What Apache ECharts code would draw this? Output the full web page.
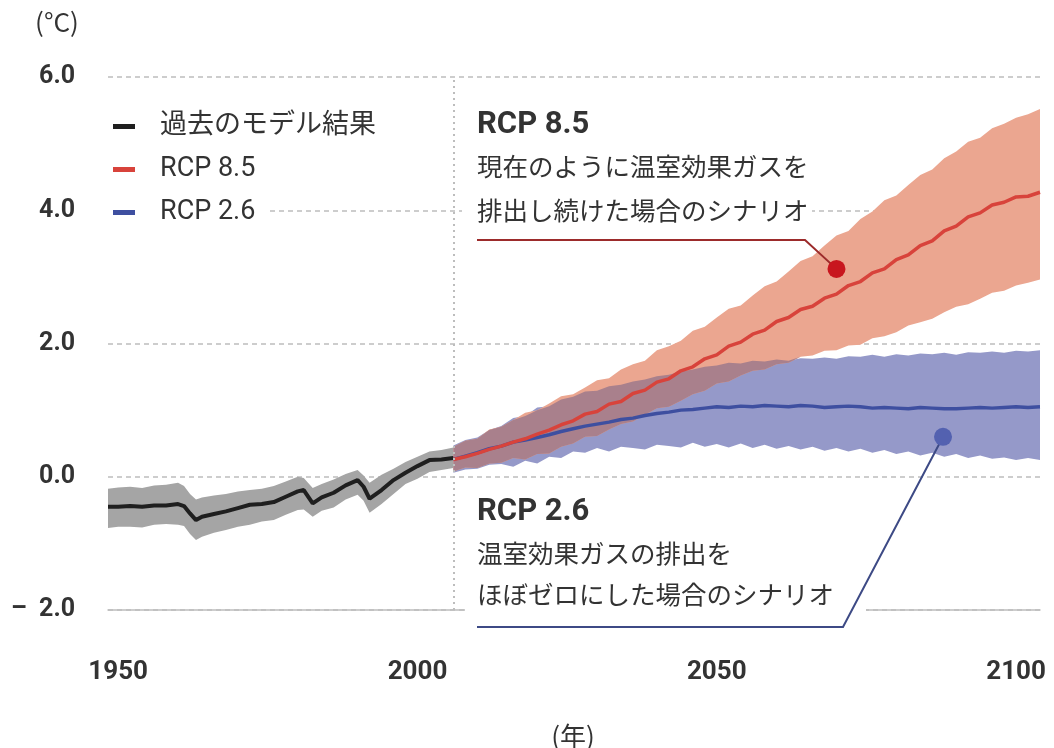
<!DOCTYPE html>
<html>
<head>
<meta charset="utf-8">
<script src="https://cdn.jsdelivr.net/npm/echarts@6/dist/echarts.min.js"></script>
<style>
  html, body { margin: 0; padding: 0; background: #fff; }
  #chart { width: 1054px; height: 748px; }
</style>
</head>
<body>
<div id="chart"></div>
<script>
// ---- axis setup ----
const xMin = 1948.3;
const xMax = 2104;
const yTicks = [-2, 0, 2, 4, 6];
const xTickLabels = [1950, 2000, 2050, 2100];

// ---- historical model run (mean and spread) ----
const histYears = [1948.3, 1950, 1952, 1954, 1956, 1958, 1960, 1961, 1962, 1963,
  1964, 1966, 1968, 1970, 1972, 1974, 1976, 1978, 1980, 1981,
  1982.5, 1984, 1986, 1988, 1990, 1991, 1992, 1994, 1996, 1998,
  2000, 2002, 2004, 2006];
const histMean = [-0.45, -0.45, -0.44, -0.45, -0.43, -0.43, -0.41, -0.44, -0.55, -0.65,
  -0.60, -0.56, -0.52, -0.47, -0.42, -0.41, -0.38, -0.30, -0.22, -0.20,
  -0.40, -0.31, -0.24, -0.13, -0.05, -0.15, -0.33, -0.20, -0.05, 0.06,
  0.16, 0.25, 0.26, 0.28];
const histHigh = [-0.18, -0.16, -0.15, -0.17, -0.13, -0.12, -0.09, -0.14, -0.26, -0.34,
  -0.31, -0.28, -0.26, -0.22, -0.20, -0.18, -0.14, -0.07, 0.00, -0.02,
  -0.17, -0.11, -0.04, 0.04, 0.10, 0.02, -0.09, 0.03, 0.12, 0.22,
  0.30, 0.38, 0.40, 0.44];
const histLow = [-0.77, -0.75, -0.75, -0.76, -0.72, -0.71, -0.72, -0.74, -0.86, -0.95,
  -0.90, -0.84, -0.80, -0.75, -0.72, -0.67, -0.65, -0.57, -0.50, -0.49,
  -0.60, -0.51, -0.46, -0.34, -0.27, -0.36, -0.54, -0.41, -0.26, -0.11,
  -0.03, 0.07, 0.10, 0.13];

// ---- scenario projections ----
const projYears = [2006, 2008, 2010, 2012, 2014, 2016, 2018, 2020, 2022, 2024,
  2026, 2028, 2030, 2032, 2034, 2036, 2038, 2040, 2042, 2044,
  2046, 2048, 2050, 2052, 2054, 2056, 2058, 2060, 2062, 2064,
  2066, 2068, 2070, 2072, 2074, 2076, 2078, 2080, 2082, 2084,
  2086, 2088, 2090, 2092, 2094, 2096, 2098, 2100, 2102, 2104];

const rcp85Mean = [0.26, 0.30, 0.35, 0.41, 0.46, 0.52, 0.57, 0.64, 0.70, 0.78,
  0.84, 0.94, 0.98, 1.09, 1.13, 1.25, 1.30, 1.42, 1.47, 1.59,
  1.65, 1.77, 1.83, 1.96, 2.02, 2.14, 2.20, 2.33, 2.39, 2.51,
  2.56, 2.68, 2.74, 2.87, 2.93, 3.06, 3.12, 3.26, 3.33, 3.47,
  3.54, 3.69, 3.76, 3.90, 3.96, 4.08, 4.12, 4.20, 4.21, 4.27];
const rcp85High = [0.45, 0.54, 0.57, 0.71, 0.75, 0.85, 0.96, 1.00, 1.10, 1.21,
  1.24, 1.34, 1.45, 1.48, 1.61, 1.69, 1.74, 1.90, 1.96, 2.04,
  2.19, 2.25, 2.39, 2.52, 2.57, 2.72, 2.86, 2.93, 3.08, 3.24,
  3.31, 3.47, 3.62, 3.69, 3.87, 3.98, 4.15, 4.22, 4.38, 4.53,
  4.61, 4.78, 4.88, 5.03, 5.09, 5.23, 5.30, 5.39, 5.44, 5.52];
const rcp85Low = [0.08, 0.14, 0.13, 0.20, 0.21, 0.28, 0.26, 0.34, 0.35, 0.45,
  0.50, 0.60, 0.61, 0.71, 0.79, 0.83, 0.93, 1.03, 1.05, 1.14,
  1.24, 1.29, 1.40, 1.43, 1.52, 1.59, 1.61, 1.69, 1.71, 1.80,
  1.82, 1.89, 1.90, 1.97, 1.98, 2.08, 2.11, 2.17, 2.27, 2.32,
  2.37, 2.47, 2.55, 2.59, 2.67, 2.76, 2.79, 2.87, 2.91, 2.96];

const rcp26Mean = [0.26, 0.31, 0.36, 0.42, 0.46, 0.52, 0.55, 0.59, 0.63, 0.68,
  0.72, 0.76, 0.79, 0.82, 0.86, 0.88, 0.92, 0.95, 0.97, 1.00,
  1.01, 1.03, 1.05, 1.04, 1.06, 1.05, 1.07, 1.06, 1.05, 1.07,
  1.06, 1.04, 1.05, 1.06, 1.05, 1.03, 1.04, 1.03, 1.02, 1.04,
  1.03, 1.02, 1.02, 1.03, 1.04, 1.03, 1.04, 1.05, 1.04, 1.05];
const rcp26High = [0.47, 0.55, 0.59, 0.70, 0.76, 0.88, 0.91, 1.04, 1.06, 1.16,
  1.20, 1.28, 1.29, 1.36, 1.38, 1.43, 1.46, 1.51, 1.53, 1.58,
  1.61, 1.65, 1.67, 1.71, 1.70, 1.74, 1.73, 1.76, 1.74, 1.78,
  1.77, 1.79, 1.77, 1.81, 1.80, 1.83, 1.80, 1.84, 1.82, 1.85,
  1.84, 1.86, 1.83, 1.87, 1.86, 1.88, 1.86, 1.89, 1.88, 1.90];
const rcp26Low = [0.06, 0.11, 0.12, 0.18, 0.19, 0.15, 0.24, 0.20, 0.30, 0.28,
  0.38, 0.36, 0.43, 0.38, 0.45, 0.43, 0.41, 0.48, 0.46, 0.44,
  0.51, 0.45, 0.49, 0.44, 0.50, 0.43, 0.48, 0.42, 0.46, 0.41,
  0.45, 0.39, 0.43, 0.38, 0.42, 0.36, 0.40, 0.34, 0.38, 0.32,
  0.36, 0.30, 0.34, 0.28, 0.32, 0.27, 0.29, 0.25, 0.28, 0.25];

// ---- callout markers ----
const calloutYears = [2070, 2087.8];
const calloutValues = [3.12, 0.60];

// ---- labels ----
const seriesNames = ['過去のモデル結果', 'RCP 8.5', 'RCP 2.6'];
const note85 = ['RCP 8.5', '現在のように温室効果ガスを', '排出し続けた場合のシナリオ'];
const note26 = ['RCP 2.6', '温室効果ガスの排出を', 'ほぼゼロにした場合のシナリオ'];

// ---- colours ----
const C = {
  histBand: '#a5a5a5', histLine: '#1f1f1f',
  band85: '#eba690', line85: '#d8433b', dot85: '#c8161e', lead85: '#9c2b2b',
  band26: '#9599c9', line26: '#3e4fa0', dot26: '#5361b0', lead26: '#3d4a85',
  overlap: '#a9808c', grid: '#bdbdbd', text: '#333333'
};

const LATIN = "Roboto, 'Noto Sans CJK JP', sans-serif";
const CJK = "'Noto Sans CJK JP', sans-serif";

function pairs(xs, ys) { return xs.map((x, i) => [x, ys[i]]); }

// shaded spread: polygon along the upper edge and back along the lower edge
function band(name, xs, lo, hi, color) {
  return {
    type: 'custom', name: name, silent: true,
    data: [[xs[0], lo[0]]],
    renderItem: function (params, api) {
      const pts = [];
      for (let i = 0; i < xs.length; i++) pts.push(api.coord([xs[i], hi[i]]));
      for (let i = xs.length - 1; i >= 0; i--) pts.push(api.coord([xs[i], lo[i]]));
      return { type: 'polygon', shape: { points: pts }, style: { fill: color } };
    }
  };
}

// intersection of the two scenario spreads
const overlapLow = projYears.map((_, i) => Math.max(rcp85Low[i], rcp26Low[i]));
const overlapHigh = projYears.map((_, i) => Math.max(overlapLow[i], Math.min(rcp85High[i], rcp26High[i])));

function meanLine(name, xs, ys, color, width) {
  return {
    type: 'line', name: name, symbol: 'none', data: pairs(xs, ys),
    lineStyle: { color: color, width: width }, itemStyle: { color: color }
  };
}

const histLine = meanLine(seriesNames[0], histYears, histMean, C.histLine, 4);
histLine.markLine = {
  silent: true, symbol: 'none', label: { show: false },
  lineStyle: { type: [2, 4], color: C.grid, width: 2 },
  data: [{ xAxis: 2006 }]
};

const series = [
  band('hist-spread', histYears, histLow, histHigh, C.histBand),
  band('rcp26-spread', projYears, rcp26Low, rcp26High, C.band26),
  band('rcp85-spread', projYears, rcp85Low, rcp85High, C.band85),
  band('overlap-spread', projYears, overlapLow, overlapHigh, C.overlap),
  histLine,
  meanLine(seriesNames[2], projYears, rcp26Mean, C.line26, 3.5),
  meanLine(seriesNames[1], projYears, rcp85Mean, C.line85, 3.5),
  {
    type: 'scatter', name: 'callouts', symbolSize: 18, z: 6, silent: true,
    data: [
      { value: [calloutYears[0], calloutValues[0]], itemStyle: { color: C.dot85, opacity: 1 } },
      { value: [calloutYears[1], calloutValues[1]], itemStyle: { color: C.dot26, opacity: 1 } }
    ]
  }
];

const chart = echarts.init(document.getElementById('chart'), null, { renderer: 'canvas' });

chart.setOption({
  animation: false,
  backgroundColor: '#ffffff',
  grid: { left: 108, right: 14, top: 77, bottom: 138 },
  xAxis: {
    type: 'value', min: xMin, max: xMax,
    axisLine: { onZero: false, lineStyle: { color: C.grid, width: 1.5 } },
    axisTick: { show: false },
    splitLine: { show: false },
    axisLabel: {
      customValues: xTickLabels, margin: 49,
      color: C.text, fontSize: 26, fontWeight: 'bold', fontFamily: LATIN,
      formatter: v => String(Math.round(v))
    }
  },
  yAxis: {
    type: 'value', min: yTicks[0], max: yTicks[yTicks.length - 1], interval: 2,
    axisLine: { show: false }, axisTick: { show: false },
    splitLine: { lineStyle: { type: [5, 4], color: C.grid, width: 1.5 } },
    axisLabel: {
      margin: 33, color: C.text, fontSize: 25, fontWeight: 'bold', fontFamily: LATIN,
      formatter: v => (v < 0 ? '–  ' + Math.abs(v).toFixed(1) : v.toFixed(1))
    }
  },
  legend: {
    data: [seriesNames[0], seriesNames[1], seriesNames[2]],
    orient: 'vertical', left: 108, top: 108,
    icon: 'rect', itemWidth: 22, itemHeight: 5, itemGap: 16,
    padding: [5, 0, 5, 5],
    selectedMode: false,
    textStyle: {
      color: C.text, fontSize: 27, lineHeight: 26, fontFamily: LATIN,
      backgroundColor: '#ffffff', padding: [0, 12, 0, 20]
    }
  },
  series: series
});

// callout graphics: white note boxes, leader lines and texts
const dotIdx = series.length - 1;
const p85 = chart.convertToPixel({ seriesIndex: dotIdx }, [calloutYears[0], calloutValues[0]]);
const p26 = chart.convertToPixel({ seriesIndex: dotIdx }, [calloutYears[1], calloutValues[1]]);

function txt(s, x, y, size, weight, family, align) {
  return {
    type: 'text', x: x, y: y, z: 5,
    style: {
      text: s, fill: C.text, fontSize: size, fontWeight: weight, fontFamily: family,
      align: align || 'left', verticalAlign: 'middle',
      textAlign: align || 'left', textVerticalAlign: 'middle'
    }
  };
}

chart.setOption({
  graphic: [
    // backing behind the legend swatches so grid lines stop at the legend
    { type: 'rect', z: 3, shape: { x: 104, y: 198, width: 44, height: 24 }, style: { fill: '#ffffff' } },
    { type: 'rect', z: 3, shape: { x: 462, y: 95, width: 350, height: 135 }, style: { fill: '#ffffff' } },
    { type: 'rect', z: 3, shape: { x: 465, y: 490, width: 401, height: 150 }, style: { fill: '#ffffff' } },
    {
      type: 'polyline', z: 5,
      shape: { points: [[477, 240], [805, 240], [p85[0], p85[1]]] },
      style: { stroke: C.lead85, lineWidth: 2, fill: null }
    },
    {
      type: 'polyline', z: 5,
      shape: { points: [[p26[0], p26[1]], [843, 627], [477, 627]] },
      style: { stroke: C.lead26, lineWidth: 2, fill: null }
    },
    txt(note85[0], 477, 125, 31, 'bold', LATIN),
    txt(note85[1], 477, 166, 25.5, 'normal', CJK),
    txt(note85[2], 477, 210, 25.5, 'normal', CJK),
    txt(note26[0], 477, 512, 31, 'bold', LATIN),
    txt(note26[1], 477, 553, 25.5, 'normal', CJK),
    txt(note26[2], 477, 594, 25.5, 'normal', CJK),
    txt('(°C)', 57, 22, 26, 'normal', CJK, 'center'),
    txt('(年)', 573, 736, 26, 'normal', CJK, 'center')
  ]
});
</script>
</body>
</html>
